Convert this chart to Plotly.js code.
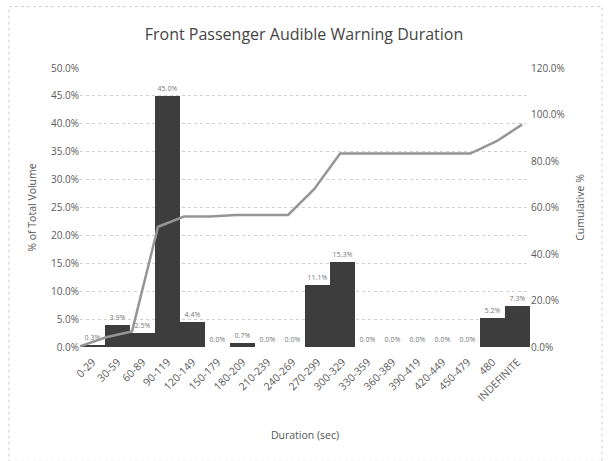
<!DOCTYPE html>
<html>
<head>
<meta charset="utf-8">
<script src="https://cdn.plot.ly/plotly-3.0.1.min.js"></script>
<style>html,body{margin:0;padding:0;background:#fff;}#chart{width:608px;height:461px;}</style>
</head>
<body>
<div id="chart"></div>
<script>
var categories = ['0-29','30-59','60-89','90-119','120-149','150-179','180-209','210-239','240-269','270-299','300-329','330-359','360-389','390-419','420-449','450-479','480','INDEFINITE'];
var pctVolume = [0.3, 3.9, 2.5, 45.0, 4.4, 0.0, 0.7, 0.0, 0.0, 11.1, 15.3, 0.0, 0.0, 0.0, 0.0, 0.0, 5.2, 7.3];
var cumulative = [0.3, 4.2, 6.7, 51.7, 56.1, 56.1, 56.8, 56.8, 56.8, 67.9, 83.2, 83.2, 83.2, 83.2, 83.2, 83.2, 88.4, 95.7];

var font = 'Open Sans, Liberation Sans, sans-serif';

var bars = {
  type: 'bar', x: categories, y: pctVolume,
  marker: {color: '#3d3d3d', line: {width: 0}},
  text: pctVolume.map(function(v){return v.toFixed(1) + '%';}),
  textposition: 'outside', cliponaxis: false,
  textfont: {size: 7, color: '#777', family: font},
  hoverinfo: 'x+y', showlegend: false
};
var line = {
  type: 'scatter', mode: 'lines', x: categories, y: cumulative,
  xaxis: 'x2', yaxis: 'y2',
  line: {color: '#959595', width: 2.5},
  showlegend: false
};

var layout = {
  width: 608, height: 461,
  margin: {l: 80, r: 78, t: 68, b: 114},
  paper_bgcolor: '#fff', plot_bgcolor: '#fff',
  font: {family: font, color: '#595959', size: 10},
  title: {text: 'Front Passenger Audible Warning Duration', x: 0.5, xanchor: 'center', y: 0.925, yanchor: 'middle',
          font: {size: 16, color: '#444', family: font}},
  bargap: 0,
  xaxis: {type: 'category', tickangle: -45, showgrid: false, zeroline: false, showline: false,
          ticks: 'outside', ticklen: 4, tickcolor: 'rgba(0,0,0,0)', tickfont: {size: 10.5, color: '#595959'},
          title: {text: 'Duration (sec)', font: {size: 10.5, color: '#555'}, standoff: 28}},
  xaxis2: {type: 'category', overlaying: 'x', range: [0, 17.3], visible: false},
  yaxis: {range: [0, 50], dtick: 5, tickformat: '.1f', ticksuffix: '%', showgrid: true,
          gridcolor: '#d0d0d0', griddash: 'dot', gridwidth: 1, zeroline: false, showline: false,
          tickfont: {size: 10, color: '#595959'},
          title: {text: '% of Total Volume', font: {size: 10.5, color: '#555'}, standoff: 12}},
  yaxis2: {range: [0, 120], dtick: 20, tickformat: '.1f', ticksuffix: '%', overlaying: 'y', side: 'right',
           showgrid: false, zeroline: false, showline: false,
           tickfont: {size: 10, color: '#595959'},
           title: {text: 'Cumulative %', font: {size: 10.5, color: '#555'}, standoff: 12}},
  shapes: [{type: 'rect', xref: 'paper', yref: 'paper', x0: -0.158, x1: 1.16, y0: -0.41, y1: 1.22,
            line: {color: '#cfcfcf', width: 1, dash: 'dot'}, fillcolor: 'rgba(0,0,0,0)', layer: 'below'}]
};

Plotly.newPlot('chart', [bars, line], layout, {displayModeBar: false, staticPlot: true});
</script>
</body>
</html>
